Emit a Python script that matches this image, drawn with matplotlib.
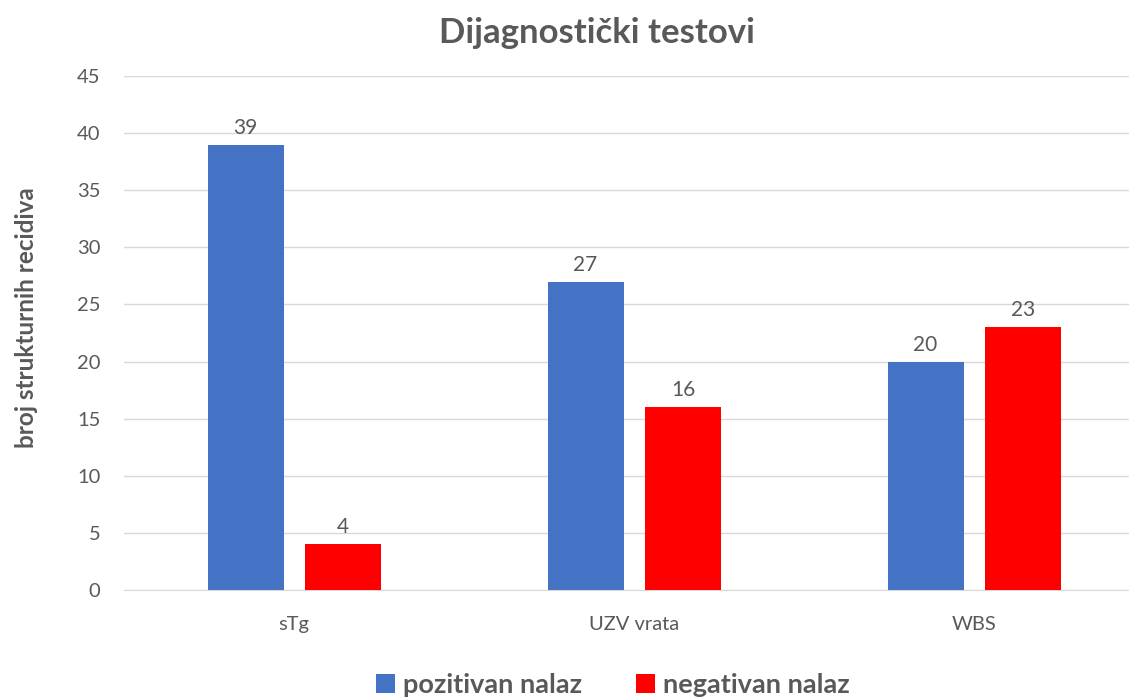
import numpy as np
import matplotlib
matplotlib.use('Agg')
import matplotlib.pyplot as plt

plt.rcParams['font.family'] = ['Lato', 'DejaVu Sans']

categories = ['sTg', 'UZV vrata', 'WBS']
pozitivan = [39, 27, 20]
negativan = [4, 16, 23]
series_names = ['pozitivan nalaz', 'negativan nalaz']

grey = '#595959'
fig = plt.figure(figsize=(11.29, 6.98), dpi=100)
ax = fig.add_axes([124/1129, 108/698, 1005/1129, 514/698])

x = np.arange(len(categories))
w = 0.2235
b1 = ax.bar(x - 0.1426, pozitivan, w, color='#4472C4', label=series_names[0], zorder=3)
b2 = ax.bar(x + 0.1440, negativan, w, color='#FF0000', label=series_names[1], zorder=3)

for bars in (b1, b2):
    for r in bars:
        ax.annotate(f'{int(r.get_height())}', (r.get_x() + r.get_width()/2, r.get_height()),
                    xytext=(0, 5), textcoords='offset points', ha='center', va='bottom',
                    fontsize=15, color=grey)

ax.set_xlim(-0.5, -0.5 + 1005/340)
ax.set_ylim(0, 45)
ax.set_yticks(range(0, 46, 5))
ax.set_xticks(x)
ax.set_xticklabels(categories)
ax.grid(axis='y', color='#D9D9D9', linewidth=1, zorder=0)
for s in ['top', 'right', 'left']:
    ax.spines[s].set_visible(False)
ax.spines['bottom'].set_color('#D9D9D9')
ax.tick_params(axis='both', length=0, labelsize=14.5, colors=grey)
ax.tick_params(axis='y', pad=17)
ax.tick_params(axis='x', pad=19)

fig.text(27/1129, 1 - 318/698, 'broj strukturnih recidiva', rotation=90, ha='center', va='center',
         fontsize=17.5, fontweight='bold', color=grey)
fig.text(597/1129, 1 - 33/698, 'Dijagnostički testovi', ha='center', va='center',
         fontsize=25, fontweight='bold', color=grey)

leg = fig.legend(loc='center', bbox_to_anchor=(613/1129, 13/698), ncol=2, frameon=False,
                 prop={'size': 19.5, 'weight': 'bold'}, handlelength=0.7, handleheight=0.7,
                 columnspacing=2.0, handletextpad=0.3)
for t in leg.get_texts():
    t.set_color(grey)

fig.savefig('out.png', dpi=100)
